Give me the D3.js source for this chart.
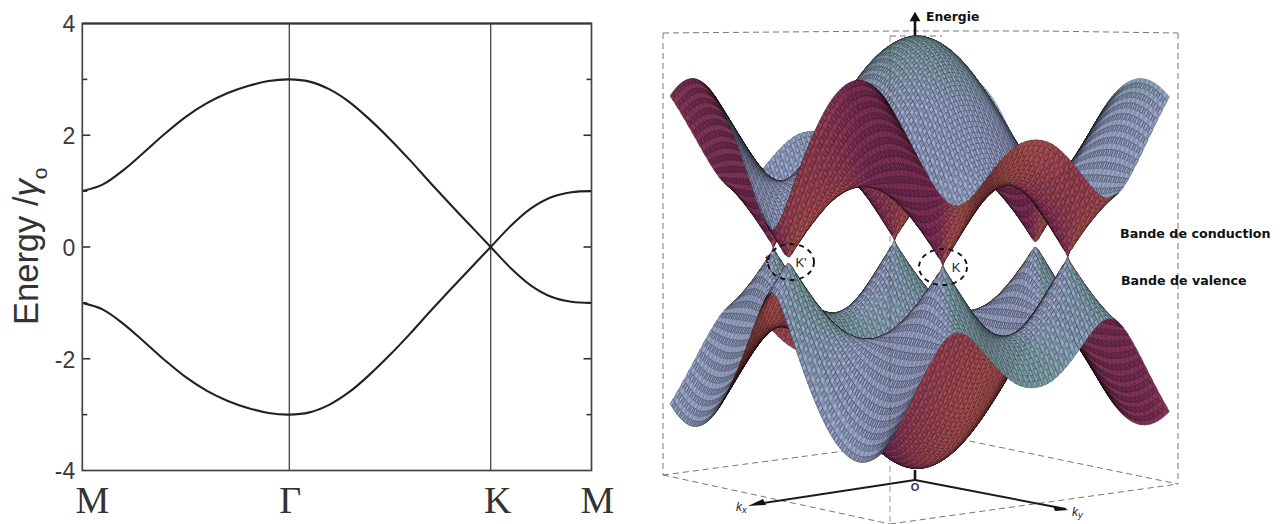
<!DOCTYPE html>
<html><head><meta charset="utf-8">
<style>html,body{margin:0;padding:0;background:#fff}svg{display:block}</style>
<script src="https://cdn.jsdelivr.net/npm/d3@7"></script></head>
<body><svg id="c" width="1283" height="524" viewBox="0 0 1283 524"></svg>
<script>
// ---------- left panel data ----------
const pathLabels = ["M","Γ","K","M"];
const yTicksMajor = [-4,-2,0,2,4];
const yTicksMinor = [-3,-1,1,3];
// path position: 0=M, 1=Γ, 2=K, 3=M
const pathPos = [0,.1,.2,.3,.4,.5,.6,.7,.8,.9,1,1.1,1.2,1.3,1.4,1.5,1.6,1.7,1.8,1.9,2,2.2,2.4,2.6,2.8,3];
const bandA = [1,1.12,1.38,1.70,2.03,2.33,2.57,2.75,2.88,2.97,3,2.96,2.82,2.59,2.28,1.93,1.55,1.15,.76,.38,0,-.38,-.69,-.89,-.98,-1];
const bandB = [-1,-1.12,-1.38,-1.70,-2.03,-2.33,-2.57,-2.75,-2.88,-2.97,-3,-2.96,-2.82,-2.59,-2.28,-1.93,-1.55,-1.15,-.76,-.38,0,.38,.69,.89,.98,1];

// ---------- right panel data: |E| on a quarter of the zone ----------
const phaseB = [0,30,60,90,120,150,180,210,233.8];      // columns
const phaseA = [0,15,30,45,60,75,90,105,120,135];        // rows
const energyRows = [
 [3.00,2.91,2.65,2.24,1.73,1.24,1.00,1.24,1.62],
 [2.93,2.84,2.58,2.18,1.67,1.18, .93,1.18,1.57],
 [2.73,2.65,2.39,2.00,1.51,1.00, .73,1.00,1.40],
 [2.41,2.33,2.10,1.73,1.26, .74, .41, .74,1.15],
 [2.00,1.93,1.73,1.41,1.00, .52,0.00, .52, .90],
 [1.52,1.47,1.34,1.13, .87, .61, .48, .61, .81],
 [1.00,1.00,1.00,1.00,1.00,1.00,1.00,1.00,1.00],
 [ .48, .61, .87,1.13,1.34,1.47,1.52,1.47,1.37],
 [0.00, .52,1.00,1.41,1.73,1.93,2.00,1.93,1.78],
 [ .41, .74,1.26,1.73,2.10,2.33,2.41,2.33,2.16]
];
const bandSigns = [1,-1];
const boxLines = [
 [[663,33],[780,32],[900,31],[1040,31],[1178,33]],
 [[663,33],[663,475]],[[1178,33],[1178,484]],
 [[663,475],[890,524]],[[890,524],[1178,484]],
 [[663,475],[950,437]],[[950,437],[1178,484]],
 [[890,36],[942,36]]
];
const frontEdge = [[890,36],[890,524]];
const circles = [{x:791,y:262,rx:23,ry:18,label:"K'"},{x:943,y:267,rx:24,ry:18,label:"K"}];

const svg = d3.select("#c");
const font = "'Liberation Sans',Arial,sans-serif";

// ---------- left panel ----------
const x = d3.scaleLinear().domain([0,1,2,3]).range([82.3,289.3,490.7,591.5]);
const y = d3.scaleLinear().domain([-4,4]).range([470.5,23.5]);
const L = svg.append("g");
L.append("g").attr("transform",`translate(${x(0)},0)`)
 .call(d3.axisLeft(y).tickValues(yTicksMajor).tickSize(0).tickPadding(7).tickFormat(d=>d))
 .call(g=>g.select(".domain").remove())
 .call(g=>g.selectAll("text").attr("font-family",font).attr("font-size",23).attr("fill","#3a3a3a").attr("dy","0.36em"));
const tickData = yTicksMajor.filter(d=>Math.abs(d)<4).map(d=>({d,l:8})).concat(yTicksMinor.map(d=>({d,l:5})));
[[x(0),1],[x(3),-1]].forEach(([x0,s])=>{
  L.append("g").selectAll("line").data(tickData).join("line")
   .attr("x1",x0).attr("x2",d=>x0+s*d.l).attr("y1",d=>y(d.d)).attr("y2",d=>y(d.d))
   .attr("stroke","#333").attr("stroke-width",1.6);
});
L.selectAll("line.v").data([1,2]).join("line").attr("class","v")
 .attr("x1",d=>x(d)).attr("x2",d=>x(d)).attr("y1",y(4)).attr("y2",y(-4))
 .attr("stroke","#444").attr("stroke-width",1.3);
const line = d3.line().x((d,i)=>x(pathPos[i])).y(d=>y(d)).curve(d3.curveCatmullRom.alpha(.5));
L.selectAll("path.b").data([bandA,bandB]).join("path").attr("class","b")
 .attr("d",line).attr("fill","none").attr("stroke","#222").attr("stroke-width",2.1);
L.append("rect").attr("x",x(0)).attr("y",y(4)).attr("width",x(3)-x(0)).attr("height",y(-4)-y(4))
 .attr("fill","none").attr("stroke","#444").attr("stroke-width",1.7);
L.append("line").attr("x1",x(0)).attr("x2",x(3)).attr("y1",y(4)).attr("y2",y(4)).attr("stroke","#333").attr("stroke-width",2.2);
const lab = L.append("text").attr("transform","translate(38,325) rotate(-90)")
 .attr("font-family",font).attr("font-size",34.5).attr("fill","#333");
lab.append("tspan").text("Energy /");
lab.append("tspan").text("γ").attr("font-style","italic").attr("dy",0);
lab.append("tspan").text("o").attr("font-size",21).attr("dy",9);
const catDx = [10,1,7,6];
L.selectAll("text.cat").data(pathLabels).join("text").attr("class","cat")
 .attr("x",(d,i)=>x(i)+catDx[i]).attr("y",513).attr("text-anchor","middle")
 .attr("font-family","'Liberation Serif',serif").attr("font-size",38).attr("fill","#333").text(d=>d);

// ---------- right panel: surface ----------
const panelX = d3.scaleIdentity().domain([0,1283]);
const panelY = d3.scaleIdentity().domain([0,524]);
const R = svg.append("g");
const pl = d3.line().x(d=>panelX(d[0])).y(d=>panelY(d[1]));
R.append("g").selectAll("path").data(boxLines).join("path").attr("d",pl)
 .attr("fill","none").attr("stroke","#777").attr("stroke-width",1).attr("stroke-dasharray","6 4");

const rad = Math.PI/180;
const kPx = d3.scaleLinear().domain([-1,1]).range([-37.8,37.8]);
const ePx = d3.scaleLinear().domain([-3,3]).range([216,-216]);
const cx = 917, cy = 252, tilt = 3, focal = 63.8;
const axB = {x:.624,d:.782}, axA = {x:-.777,d:.629};

const fullU = phaseB.slice(1).reverse().map(d=>-d).concat(phaseB);
const fullV = phaseA.slice(1).reverse().map(d=>-d).concat(phaseA);
const rowIdx = fullV.map(v=>phaseA.indexOf(Math.abs(v)));
const colIdx = fullU.map(u=>phaseB.indexOf(Math.abs(u)));
const sq = rowIdx.map(r=>colIdx.map(c=>energyRows[r][c]*energyRows[r][c]));

function stencil(nodes,t){
  let i = d3.bisectRight(nodes,t)-1;
  let s = Math.max(0,Math.min(nodes.length-4,i-1));
  const w = [0,1,2,3].map(a=>{
    let p=1; for(let b=0;b<4;b++) if(b!==a) p*=(t-nodes[s+b])/(nodes[s+a]-nodes[s+b]); return p;});
  return {s,w};
}
const NU=113,NV=108;
const uMax=phaseB[phaseB.length-1], vMax=phaseA[phaseA.length-1];
const uMesh=d3.range(NU+1).map(i=>-uMax+2*uMax*i/NU);
const vMesh=d3.range(NV+1).map(j=>-vMax+2*vMax*j/NV);
const su=uMesh.map(u=>stencil(fullU,u)), sv=vMesh.map(v=>stencil(fullV,v));
const mag=vMesh.map((v,j)=>uMesh.map((u,i)=>{
  let t=0; const a=sv[j],b=su[i];
  for(let m=0;m<4;m++)for(let n=0;n<4;n++) t+=a.w[m]*b.w[n]*sq[a.s+m][b.s+n];
  return Math.sqrt(Math.max(0,t));
}));
const kbOf=u=>u*rad/(Math.sqrt(3)/2), kaOf=v=>2*v*rad;
const elev=Math.atan(tilt/37.8), view=[0,Math.cos(elev),Math.sin(elev)];
function vert(i,j,s){
  const kb=kbOf(uMesh[i]),ka=kaOf(vMesh[j]),E=s*mag[j][i];
  const X=kPx(axB.x*kb+axA.x*ka),d=axB.d*kb+axA.d*ka,p=focal/(focal-d);
  return {P:[X,kPx(d),-ePx(E)],d,E,sx:cx+p*X,sy:cy+p*(tilt*d+ePx(E))};
}
const blueL=d3.rgb("#8995b6"),tealL=d3.rgb("#6f9296");
const maroon=d3.rgb("#74294e"),brick=d3.rgb("#a04a48");
const darkB=d3.rgb("#10181c"),darkR=d3.rgb("#1c060c");
const mixB=d3.interpolateRgb(blueL,tealL),mixR=d3.interpolateRgb(maroon,brick);
const clamp=(a)=>Math.max(0,Math.min(1,a));
const shade=(c,m)=>`rgb(${Math.round(Math.min(255,c.r*m))},${Math.round(Math.min(255,c.g*m))},${Math.round(Math.min(255,c.b*m))})`;
const cells=[];
bandSigns.forEach(s=>{
  const V=vMesh.map((_,j)=>uMesh.map((_,i)=>vert(i,j,s)));
  for(let j=0;j<NV;j++)for(let i=0;i<NU;i++){
    const A=V[j][i],B=V[j][i+1],C=V[j+1][i+1],D=V[j+1][i];
    const a=[0,1,2].map(k=>C.P[k]-A.P[k]),b=[0,1,2].map(k=>D.P[k]-B.P[k]);
    let n=[a[1]*b[2]-a[2]*b[1],a[2]*b[0]-a[0]*b[2],a[0]*b[1]-a[1]*b[0]];
    const len=Math.hypot(...n)||1; n=n.map(c=>c/len); if(n[2]<0) n=n.map(c=>-c);
    const nv=n[0]*view[0]+n[1]*view[1]+n[2]*view[2];
    const top=nv>0, f=Math.pow(clamp(Math.abs(nv)/.36),.8);
    const Em=(A.E+C.E)/2;
    let teal = s>0 ? clamp((Em-2.0)/.8)*.85 : Math.pow(clamp(.5+1.5*n[0]),2)*.8;
    const tint=clamp(.45-.95*n[0]);
    const base=d3.rgb(top?mixB(teal):mixR(tint));
    const dk=top?darkB:darkR;
    const c={r:base.r*f+dk.r*(1-f),g:base.g*f+dk.g*(1-f),b:base.b*f+dk.b*(1-f)};
    cells.push({d:(A.d+B.d+C.d+D.d)/4,pts:[A,B,C,D].map(q=>[q.sx,q.sy]),
      fill:shade(c,(i+j)%2?1.14:.98),stroke:shade(c,j%2?.55:.8),w:j%2?.7:.4});
  }
});
cells.sort((a,b)=>a.d-b.d);
const cellPath=d3.line();
function drawCells(g,data){
  g.selectAll("path").data(data).join("path")
   .attr("d",d=>cellPath(d.pts)+"Z").attr("fill",d=>d.fill).attr("stroke",d=>d.stroke).attr("stroke-width",d=>d.w);
}
drawCells(R.append("g"),cells.filter(c=>c.d<0));
// energy axis
const axisTop=21;
R.append("line").attr("x1",cx-2).attr("x2",cx-2).attr("y1",cy-ePx(-3)+4).attr("y2",axisTop).attr("stroke","#151515").attr("stroke-width",2.6);
drawCells(R.append("g"),cells.filter(c=>c.d>=0));
R.append("path").attr("d",d3.line()(frontEdge)).attr("fill","none").attr("stroke","#333").attr("stroke-opacity",.5).attr("stroke-dasharray","6 4");
R.append("path").attr("d",d3.symbol(d3.symbolTriangle,52)).attr("transform","translate(915,18)").attr("fill","#111");
// base axes
const arrows=[{to:[757,504],head:[[748,506],[763,499],[766,505]]},{to:[1066,509],head:[[1069,510],[1053,506],[1055,511]]}];
R.selectAll("line.k").data(arrows).join("line").attr("class","k").attr("x1",915).attr("y1",480)
 .attr("x2",d=>panelX(d.to[0])).attr("y2",d=>panelY(d.to[1])).attr("stroke","#1a1a1a").attr("stroke-width",2);
R.selectAll("path.h").data(arrows).join("path").attr("class","h").attr("d",d=>d3.line()(d.head)+"Z").attr("fill","#111");
R.append("line").attr("x1",915).attr("x2",915).attr("y1",470).attr("y2",480).attr("stroke","#151515").attr("stroke-width",2.6);
R.selectAll("ellipse").data(circles).join("ellipse").attr("cx",d=>d.x).attr("cy",d=>d.y).attr("rx",d=>d.rx).attr("ry",d=>d.ry)
 .attr("fill","none").attr("stroke","#111").attr("stroke-width",1.9).attr("stroke-dasharray","5 4.5");
const dj="'DejaVu Sans',Verdana,sans-serif";
R.selectAll("text.kp").data(circles).join("text").attr("class","kp").attr("x",d=>d.x+(d.label==="K"?13:10)).attr("y",d=>d.y+4.5)
 .attr("text-anchor","middle").attr("font-family",font).attr("font-size",13).attr("fill","#223").text(d=>d.label);
R.append("text").attr("x",767).attr("y",263).attr("text-anchor","middle").attr("font-family",font).attr("font-weight","bold").attr("font-size",11).attr("fill","#222").text("t");
const boldLabels=[{t:"Energie",x:926,y:21,s:12.4},{t:"Bande de conduction",x:1120,y:238,s:12.7},{t:"Bande de valence",x:1121,y:285,s:12.6}];
R.selectAll("text.bl").data(boldLabels).join("text").attr("class","bl").attr("x",d=>d.x).attr("y",d=>d.y)
 .attr("font-family",dj).attr("font-weight","bold").attr("font-size",d=>d.s).attr("fill","#111").text(d=>d.t);
R.append("text").attr("x",915).attr("y",491).attr("text-anchor","middle").attr("font-family",font).attr("font-weight","bold").attr("font-size",11).attr("fill","#334").text("O");
[["k","x",736,511],["k","y",1072,516]].forEach(([a,b,tx,ty])=>{
  const t=R.append("text").attr("x",tx).attr("y",ty).attr("font-family",font).attr("font-style","italic").attr("font-size",12).attr("fill","#223");
  t.append("tspan").text(a); t.append("tspan").text(b).attr("font-size",9.5).attr("dy",2);
});
</script></body></html>
